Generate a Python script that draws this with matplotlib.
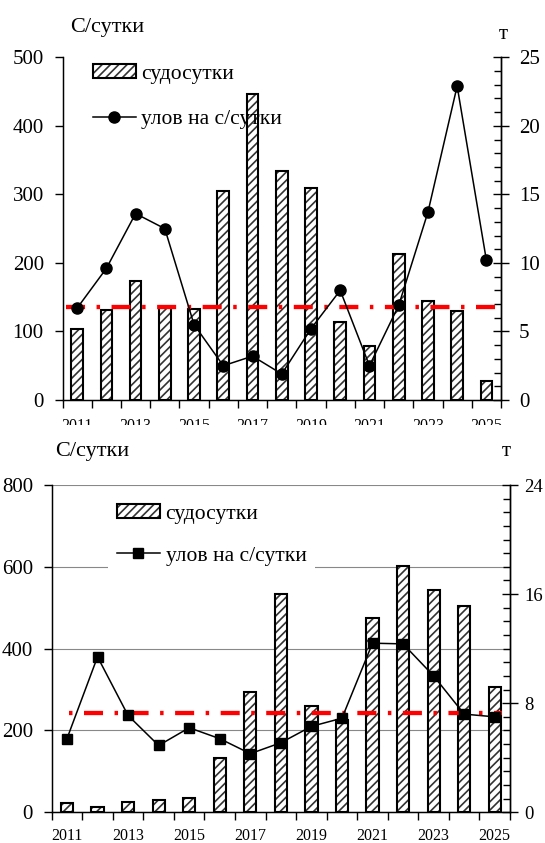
import numpy as np
import matplotlib
matplotlib.use('Agg')
import matplotlib.pyplot as plt
from matplotlib.ticker import MultipleLocator, FixedLocator
from matplotlib.transforms import Bbox, TransformedBbox
from matplotlib.patches import Patch
from matplotlib.lines import Line2D

plt.rcParams['font.family'] = ['Liberation Serif', 'DejaVu Serif']
plt.rcParams['hatch.linewidth'] = 1.2
plt.rcParams['hatch.color'] = '#333333'
plt.rcParams['lines.scale_dashes'] = False

# годы и подписи (через один)
years = list(range(2011, 2026))
year_labels = [str(y) if (y - 2011) % 2 == 0 else '' for y in years]

# верхний график: судосутки и улов на с/сутки (т)
days_1 = [103, 131, 173, 135, 133, 305, 447, 334, 310, 114, 79, 213, 144, 130, 27]
catch_1 = [6.7, 9.6, 13.6, 12.5, 5.5, 2.5, 3.2, 1.9, 5.2, 8.0, 2.5, 6.9, 13.7, 22.9, 10.2]
mean_1 = 6.8

# нижний график
days_2 = [22, 13, 24, 30, 36, 133, 295, 533, 259, 226, 474, 603, 543, 505, 307]
catch_2 = [5.4, 11.4, 7.1, 4.9, 6.2, 5.4, 4.3, 5.1, 6.3, 6.9, 12.4, 12.35, 10.0, 7.2, 7.0]
mean_2 = 7.3

W, H = 545, 843
fig = plt.figure(figsize=(W / 100, H / 100), dpi=100)

red_dash = (13.7, 8.3, 2.5, 8.3)


def panel(rect, days, catch, mean, ymax_l, step_l, ymax_r, step_r,
          marker, msize, red_x, red_offset, leg_anchor, leg_space, grid,
          xpad, rsize, rpad):
    ax = fig.add_axes(rect)
    x = np.arange(len(days))
    if grid:
        ax.yaxis.grid(True, color='#888888', lw=0.8)
        ax.set_axisbelow(True)
    ax.bar(x, days, width=0.4, color='white', edgecolor='#333333',
           hatch='////', linewidth=0, zorder=2)
    ax.bar(x, days, width=0.4, fill=False, edgecolor='black',
           linewidth=1.5, zorder=2)
    ax.set_xlim(-0.5, len(days) - 0.5)
    ax.set_ylim(0, ymax_l)
    ax.yaxis.set_major_locator(MultipleLocator(step_l))
    ax.set_xticks(x)
    ax.set_xticklabels(year_labels)
    ax.xaxis.set_minor_locator(FixedLocator(np.arange(-0.5, len(days), 1)))
    ax.tick_params(axis='x', which='major', length=0, pad=xpad, labelsize=11.5)
    ax.tick_params(axis='x', which='minor', length=6, width=1, direction='out')
    ax.tick_params(axis='y', length=6, width=1, direction='out', pad=7.5,
                   labelsize=15)
    ax.spines['top'].set_visible(False)
    for s in ['left', 'right', 'bottom']:
        ax.spines[s].set_linewidth(1.0)

    ax2 = ax.twinx()
    ax2.set_ylim(0, ymax_r)
    ax2.yaxis.set_major_locator(MultipleLocator(step_r))
    ax2.yaxis.set_minor_locator(MultipleLocator(1))
    ax2.tick_params(axis='y', which='major', direction='inout', length=12,
                    width=1, pad=rpad, labelsize=rsize)
    ax2.tick_params(axis='y', which='minor', direction='in', length=5, width=1)
    ax2.spines['top'].set_visible(False)
    ax2.spines['right'].set_linewidth(1.0)

    ax2.plot(red_x, [mean, mean], color='red', lw=3.1,
             linestyle=(red_offset, red_dash), dash_capstyle='butt', zorder=2)
    ax2.plot(x, catch, color='black', lw=1.1, marker=marker, ms=msize, zorder=3)

    bar_h = (Patch(facecolor='white', edgecolor='#333333', hatch='////', lw=0),
             Patch(fill=False, edgecolor='black', lw=1.5))
    line_h = Line2D([], [], color='black', lw=1.1, marker=marker, ms=msize)
    ax2.legend([bar_h, line_h], ['судосутки', 'улов на с/сутки'],
               loc='upper left', bbox_to_anchor=leg_anchor,
               borderaxespad=0, fontsize=15.5, handlelength=2.0,
               handleheight=0.6, handletextpad=0.27,
               labelspacing=leg_space, fancybox=False,
               frameon=grid, facecolor='white', edgecolor='none',
               framealpha=1)
    return ax, ax2


ax1, ax1r = panel([62.5 / W, 1 - 400 / H, 438.5 / W, 342.7 / H],
                  days_1, catch_1, mean_1, 500, 100, 25, 5, 'o', 8,
                  [-0.39, 14.4], 0, (0.049, 1.005), 1.2, False, 13, 15, 7)
ax2, ax2r = panel([51.7 / W, 1 - 812.3 / H, 458.3 / W, 327.3 / H],
                  days_2, catch_2, mean_2, 800, 200, 24, 8, 's', 7,
                  [0.06, 14.25], 22, (0.123, 0.968), 1.05, True, 11, 13.5, 4.5)

fig.text(70 / W, 1 - 32.3 / H, 'С/сутки', fontsize=16, ha='left', va='baseline')
fig.text(503 / W, 1 - 39 / H, 'т', fontsize=15, ha='center', va='baseline')
fig.text(55 / W, 1 - 456 / H, 'С/сутки', fontsize=16, ha='left', va='baseline')
fig.text(506.7 / W, 1 - 456 / H, 'т', fontsize=15, ha='center', va='baseline')

# подписи лет верхнего графика обрезаны нижним графиком
fig.canvas.draw()
clip = TransformedBbox(Bbox.from_extents(0, 1 - 425 / H, 1, 1), fig.transFigure)
for t in ax1.get_xticklabels():
    t.set_clip_box(clip)
    t.set_clip_on(True)

fig.savefig('out.png', dpi=100)
